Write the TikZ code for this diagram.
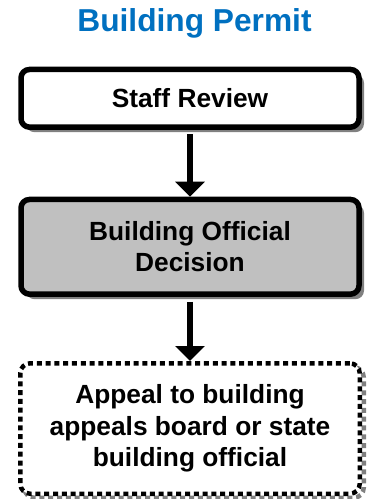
\documentclass[tikz,border=0pt]{standalone}
\usepackage{fontspec}
\setmainfont{Liberation Sans}
\usetikzlibrary{arrows.meta,calc,positioning,shadows}

\definecolor{titleblue}{RGB}{0,112,192}
\definecolor{boxgray}{RGB}{192,192,192}
\definecolor{shadegray}{RGB}{128,128,128}

\begin{document}
\begin{tikzpicture}[x=1pt, y=1pt, line join=round]

% ------------------------------------------------
% Styles
% ------------------------------------------------
\tikzset{
    heading/.style={font=\fontsize{31.7}{38}\selectfont\bfseries, text=titleblue},
    stage/.style={draw=black, line width=5.5pt, rounded corners=8.5pt,
        minimum width=338pt, inner sep=0pt, align=center,
        font=\fontsize{26.3}{31.5}\selectfont\bfseries,
        drop shadow={shadow xshift=5pt, shadow yshift=-5pt,
            fill=shadegray, opacity=1}},
    appeal/.style={draw=black, fill=white, line width=4.5pt,
        dash pattern=on 5pt off 3.8pt, rounded corners=10pt,
        minimum width=339.5pt, inner sep=0pt, align=center,
        font=\fontsize{26.3}{31.5}\selectfont\bfseries,
        general shadow={shadow xshift=4pt, shadow yshift=-4pt,
            draw=shadegray, line width=4.5pt,
            dash pattern=on 5pt off 3.8pt, opacity=1}},
    flow/.style={-{Triangle[width=29pt,length=15pt]}, line width=6pt},
}

\useasboundingbox (0,0) rectangle (369,-499);

% ------------------------------------------------
% Title
% ------------------------------------------------
\node[heading, anchor=base] (title) at (194.5,-31.7) {Building Permit};

% ------------------------------------------------
% Steps
% ------------------------------------------------
\node[stage, fill=white, minimum height=57.7pt] (review) at (190,-98.3)
    {Staff Review};
\node[stage, fill=boxgray, minimum height=94.7pt] (decision) at (190,-246.8)
    {Building Official\\Decision};
\node[appeal, minimum height=130.5pt] (board) at (190,-428.5)
    {Appeal to building\\appeals board or state\\building official};

% ------------------------------------------------
% Arrows
% ------------------------------------------------
\draw[flow] ([yshift=-4.5pt]review.south) -- (decision.north);
\draw[flow] ([yshift=-5pt]decision.south) -- (board.north);

\end{tikzpicture}
\end{document}
